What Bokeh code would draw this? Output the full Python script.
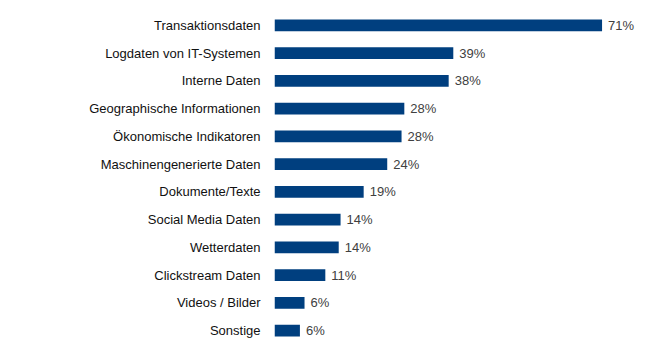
from bokeh.plotting import figure
from bokeh.models import FactorRange, ColumnDataSource
from bokeh.embed import file_html
from bokeh.resources import INLINE
from bokeh.core.properties import value

categories = ["Transaktionsdaten", "Logdaten von IT-Systemen", "Interne Daten",
              "Geographische Informationen", "Ökonomische Indikatoren",
              "Maschinengenerierte Daten", "Dokumente/Texte", "Social Media Daten",
              "Wetterdaten", "Clickstream Daten", "Videos / Bilder", "Sonstige"]
values = [70.9, 38.7, 37.7, 28.1, 27.5, 24.4, 19.3, 14.3, 13.9, 11.0, 6.5, 5.5]
labels = ["71%", "39%", "38%", "28%", "28%", "24%", "19%", "14%", "14%", "11%", "6%", "6%"]

src = ColumnDataSource(dict(cat=categories, val=values, lab=labels))

p = figure(width=654, height=348, output_backend="svg", toolbar_location=None,
           y_range=FactorRange(*list(reversed(categories))),
           x_range=(0, 82.25),
           min_border_left=274, min_border_right=0, min_border_top=11, min_border_bottom=4)
p.outline_line_color = None
p.grid.visible = False
p.xaxis.visible = False
p.yaxis.axis_line_color = None
p.yaxis.major_tick_line_color = None
p.yaxis.minor_tick_line_color = None
p.yaxis.major_label_standoff = 8
p.yaxis.major_label_text_font = "Liberation Sans"
p.yaxis.major_label_text_font_size = "13px"
p.yaxis.major_label_text_color = "#111111"

p.hbar(y="cat", right="val", left=0, height=0.43, source=src,
       fill_color="#003f7f", line_color=None)
p.text(x="val", y="cat", text="lab", source=src, x_offset=6,
       text_baseline="middle", text_align="left",
       text_font=value("Liberation Sans"), text_font_size="13px",
       text_color="#404040")

open("out.html", "w").write(file_html(p, INLINE))
